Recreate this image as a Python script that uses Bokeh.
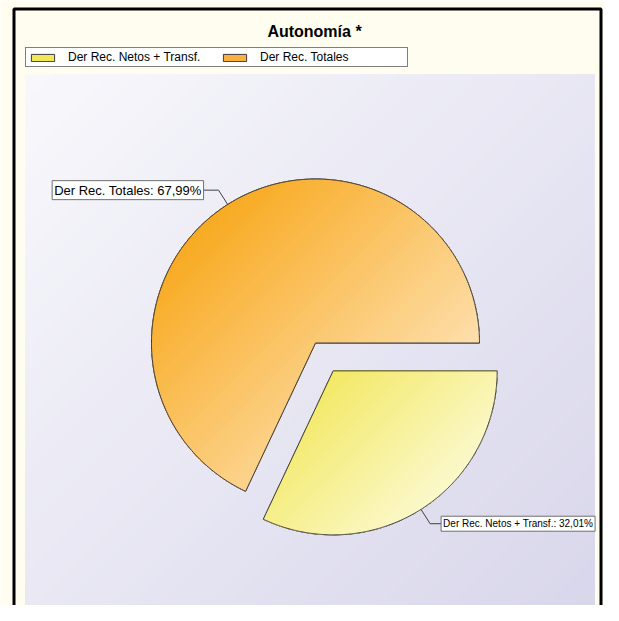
import numpy as np
from bokeh.plotting import figure
from bokeh.models import Range1d, Label, Legend, LegendItem
from bokeh.embed import file_html
from bokeh.resources import INLINE

# ---------------- data ----------------
title_text = "Autonomía *"
categories = ["Der Rec. Netos + Transf.", "Der Rec. Totales"]
values = [32.01, 67.99]
exploded = [True, False]

# ---------------- style ----------------
slice_c0 = ["#F0E446", "#F79E00"]      # gradient start (top-left)
slice_c1 = ["#FFFFF6", "#FFF2E0"]      # gradient end (bottom-right)
slice_base = ["#F2E75A", "#FAB040"]    # legend swatch colours
label_font_size = ["10px", "13px"]
outline = "#3c3c3c"
cream = "#FFFDF0"
bg_c0, bg_c1 = "#F8F8FC", "#D8D6EA"

W, H = 603, 605
p = figure(width=W, height=H, x_range=Range1d(0, W), y_range=Range1d(H, 0),
           output_backend="svg", toolbar_location=None, min_border=0, title=None,
           x_axis_location=None, y_axis_location=None)
p.grid.visible = False
p.outline_line_color = None
p.background_fill_color = cream
p.border_fill_color = cream


def rgb(h):
    return np.array([int(h[i:i + 2], 16) for i in (1, 3, 5)], float)


def mix(c0, c1, t):
    c = rgb(c0) + (rgb(c1) - rgb(c0)) * t
    return "#%02x%02x%02x" % tuple(int(round(v)) for v in c)


def clip_ge(pts, a):
    """keep part of polygon where x + y >= a (Sutherland-Hodgman)"""
    out = []
    n = len(pts)
    for i in range(n):
        P, Q = pts[i], pts[(i + 1) % n]
        fp, fq = P[0] + P[1] - a, Q[0] + Q[1] - a
        if fp >= 0:
            out.append(P)
        if (fp >= 0) != (fq >= 0):
            t = fp / (fp - fq)
            out.append((P[0] + t * (Q[0] - P[0]), P[1] + t * (Q[1] - P[1])))
    return out


def gradient_fill(pts, c0, c1, n=60):
    xs = [q[0] for q in pts]
    ys = [q[1] for q in pts]
    smin, smax = min(xs) + min(ys), max(xs) + max(ys)
    bx, by, cols = [], [], []
    for k in range(n):
        a = smin + (smax - smin) * k / n
        poly = clip_ge(pts, a) if k > 0 else list(pts)
        if len(poly) < 3:
            continue
        bx.append([q[0] for q in poly])
        by.append([q[1] for q in poly])
        cols.append(mix(c0, c1, (k + 0.5) / n))
    p.patches(bx, by, fill_color=cols, line_color=None)


# plot area background
px0, px1, py0, py1 = 25, 594, 74, 612
gradient_fill([(px0, py0), (px1, py0), (px1, py1), (px0, py1)], bg_c0, bg_c1, n=80)

# ---------------- pie ----------------
cx, cy, R = 315, 342.5, 164
explode_d = 33
total = sum(values)
cum = np.concatenate([[0], np.cumsum(values)]) / total * 360.0
base_renderers = []
label_info = []
for i, v in enumerate(values):
    a_start, a_end = -cum[i], -cum[i + 1]          # clockwise from 3 o'clock
    mid = np.radians((a_start + a_end) / 2)
    ox, oy = (explode_d * np.cos(mid), -explode_d * np.sin(mid)) if exploded[i] else (0, 0)
    ccx, ccy = cx + ox, cy + oy
    th = np.radians(np.linspace(a_end, a_start, 300))
    pts = [(ccx, ccy)] + [(ccx + R * np.cos(t), ccy - R * np.sin(t)) for t in th]
    xs = [q[0] for q in pts]
    ys = [q[1] for q in pts]
    base = p.patch(xs, ys, fill_color=slice_base[i], line_color=outline, line_width=1)
    base_renderers.append(base)
    gradient_fill(pts, slice_c0[i], slice_c1[i], n=70)
    p.patch(xs, ys, fill_color=None, line_color=outline, line_width=1)
    label_info.append((ccx, ccy, mid, v))

# leader lines + labels
for i, (ccx, ccy, mid, v) in enumerate(label_info):
    ux, uy = np.cos(mid), -np.sin(mid)
    ax, ay = ccx + R * ux, ccy + R * uy
    ex, ey = ax + 17 * ux, ay + 17 * uy
    side = 1 if ux >= 0 else -1
    bx = ex + (11 if side > 0 else 15) * side
    p.line([ax, ex, bx], [ay, ey, ey], line_color="#404040", line_width=1)
    txt = f"{categories[i]}: " + f"{v:.2f}".replace(".", ",") + "%"
    p.add_layout(Label(x=bx, y=ey, text=txt,
                       text_align="left" if side > 0 else "right", text_baseline="middle",
                       text_font="Liberation Sans", text_font_size=label_font_size[i],
                       text_color="black",
                       background_fill_color="white", border_line_color="#707070",
                       border_line_width=1, padding=2))

# title
p.add_layout(Label(x=314, y=31, text=title_text, text_align="center", text_baseline="middle",
                   text_font="Liberation Sans", text_font_style="bold", text_font_size="16px",
                   text_color="black"))

# legend
legend = Legend(items=[LegendItem(label=categories[k], renderers=[base_renderers[k]])
                       for k in range(len(categories))],
                orientation="horizontal", location=(25, H - 67),
                glyph_width=29, glyph_height=9, label_standoff=11, label_width=145,
                label_height=10, spacing=7, padding=2, margin=0,
                border_line_color="black", border_line_width=1,
                background_fill_color="white", background_fill_alpha=1,
                label_text_font="Liberation Sans", label_text_font_size="12px",
                label_text_color="black")
p.add_layout(legend)

# outer frame
fr = p.quad(left=13.5, right=600.5, top=8.5, bottom=640, fill_color=None,
            line_color="black", line_width=3)
fr.level = "overlay"

open("out.html", "w").write(file_html(p, INLINE))
